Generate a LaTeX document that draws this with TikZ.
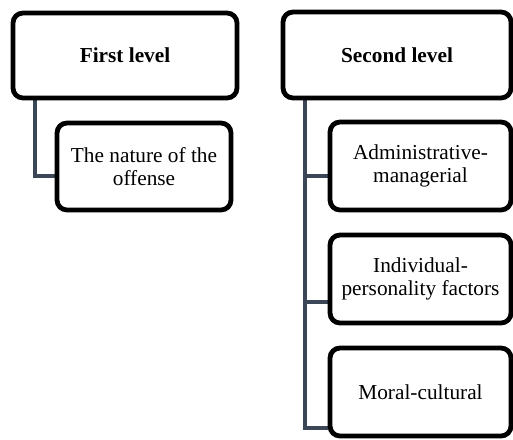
\documentclass[tikz,border=0pt]{standalone}
\usepackage{fontspec}
\setmainfont{Liberation Serif}
\usetikzlibrary{backgrounds}
\definecolor{linkgray}{HTML}{3B4656}
\tikzset{
  levelbox/.style={draw, line width=4.8pt, rounded corners=10pt, align=center,
    font=\fontsize{21.3}{23}\selectfont, inner sep=2pt},
  link/.style={linkgray, line width=4pt}
}
\begin{document}
\begin{tikzpicture}[x=1pt, y=-1pt]
  \useasboundingbox (0,0) rectangle (513,439);
  % top level boxes
  \node[levelbox, minimum width=224pt, minimum height=85pt] (first) at (125,55.5) {\textbf{First level}};
  \node[levelbox, minimum width=228pt, minimum height=86pt] (second) at (397,55) {\textbf{Second level}};
  % children
  \node[levelbox, minimum width=174pt, minimum height=87pt] (nature) at (144,166.5) {The nature of the\\offense};
  \node[levelbox, minimum width=181pt, minimum height=88pt] (admin) at (420.5,166) {Administrative-\\managerial};
  \node[levelbox, minimum width=181pt, minimum height=88pt] (indiv) at (420.5,279) {Individual-\\personality factors};
  \node[levelbox, minimum width=181pt, minimum height=88pt] (moral) at (420.5,392) {Moral-cultural};
  % connectors
  \begin{scope}[on background layer]
    \draw[link] ([xshift=24pt]first.south west) |- ([yshift=-9.5pt]nature.west);
    \draw[link] ([xshift=24pt]second.south west) |- ([yshift=-36pt]moral.west);
    \draw[link] ([xshift=24pt]second.south west |- admin.west) ++(0,10) -- ([yshift=-10pt]admin.west);
    \draw[link] ([xshift=24pt]second.south west |- indiv.west) ++(0,23) -- ([yshift=-23pt]indiv.west);
  \end{scope}
\end{tikzpicture}
\end{document}
